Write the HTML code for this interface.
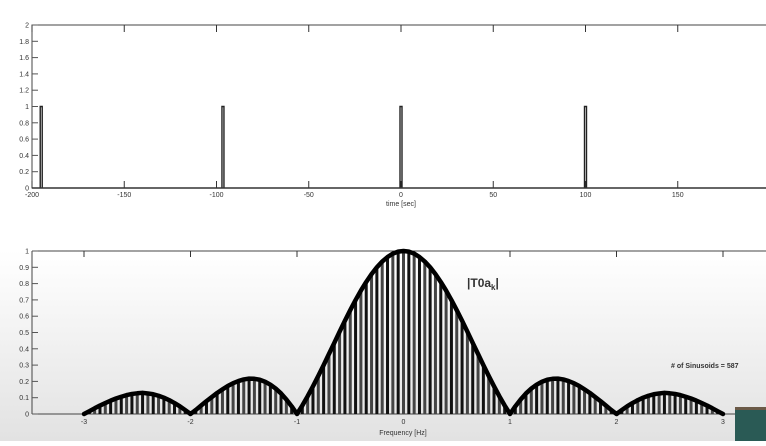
<!DOCTYPE html>
<html><head><meta charset="utf-8"><style>
html,body{margin:0;padding:0}
body{width:766px;height:441px;overflow:hidden;background:linear-gradient(#fff 0px,#fff 250px,#f3f3f3 330px,#e2e2e2 441px);font-family:"Liberation Sans",sans-serif}
svg text{font-family:"Liberation Sans",sans-serif;fill:#333}
</style></head><body>
<svg id="c" width="766" height="441"></svg>
<script>
const pulseTimes=[-195,-96.5,0,100];
const pulseHeights=[1,1,1,1];
const topXTicks=[-200,-150,-100,-50,0,50,100,150];
const topYTicks=[0,0.2,0.4,0.6,0.8,1,1.2,1.4,1.6,1.8,2];
const freqs=[];for(let i=-60;i<=60;i++)freqs.push(i/20);
const halfMag=[1,0.996,0.984,0.963,0.935,0.900,0.858,0.810,0.757,0.699,0.637,0.572,0.505,0.436,0.368,0.300,0.234,0.170,0.109,0.052,0,0.047,0.089,0.126,0.156,0.180,0.198,0.210,0.216,0.217,0.212,0.202,0.189,0.172,0.151,0.129,0.104,0.079,0.052,0.025,0,0.024,0.047,0.067,0.085,0.100,0.112,0.121,0.126,0.130,0.127,0.123,0.116,0.106,0.095,0.082,0.067,0.052,0.035,0.017,0];
const mags=halfMag.slice(1).reverse().concat(halfMag);
const botXTicks=[-3,-2,-1,0,1,2,3];
const botYTicks=[0,0.1,0.2,0.3,0.4,0.5,0.6,0.7,0.8,0.9,1];
const NS="http://www.w3.org/2000/svg",svg=document.getElementById('c');
function mk(t,a,p){const e=document.createElementNS(NS,t);for(const k in a)e.setAttribute(k,a[k]);(p||svg).appendChild(e);return e;}
const tx=v=>32+(v+200)*1.845, ty=v=>188-v*81.5;
const g1=mk('g',{});
let r=mk('rect',{x:32,y:25,width:740,height:163,fill:'#fff',stroke:'#444','stroke-width':1},g1);

topXTicks.forEach(v=>{const x=tx(v);mk('line',{x1:x,x2:x,y1:188,y2:181,stroke:'#333'},g1);mk('line',{x1:x,x2:x,y1:25,y2:32,stroke:'#333'},g1);
 const t=mk('text',{x:x,y:197,'font-size':7,'text-anchor':'middle'},g1);t.textContent=v;});
topYTicks.forEach(v=>{const y=ty(v);mk('line',{x1:32,x2:38,y1:y,y2:y,stroke:'#555'},g1);
 const t=mk('text',{x:29,y:y+2.5,'font-size':7,'text-anchor':'end'},g1);t.textContent=v;});
pulseTimes.forEach((p,i)=>{const x=tx(p);const e=mk('path',{d:`M${x-1},${ty(0)}V${ty(pulseHeights[i])}H${x+1}V${ty(0)}`,fill:'none',stroke:'#222','stroke-width':1.4},g1);
 });
mk('line',{x1:32,x2:766,y1:188,y2:188,stroke:'#333','stroke-width':1.5},g1);
let t=mk('text',{x:401,y:206,'font-size':7,'text-anchor':'middle'},g1);t.textContent='time [sec]';
const fx=v=>403.5+v*106.5, fy=v=>414-v*163;
const g2=mk('g',{});
mk('line',{x1:32,x2:766,y1:251,y2:251,stroke:'#444'},g2);
mk('line',{x1:32,x2:32,y1:251,y2:414,stroke:'#444'},g2);
mk('line',{x1:32,x2:766,y1:414,y2:414,stroke:'#444'},g2);
botXTicks.forEach(v=>{const x=fx(v);mk('line',{x1:x,x2:x,y1:251,y2:257,stroke:'#333'},g2);
 const t=mk('text',{x:x,y:424,'font-size':7,'text-anchor':'middle'},g2);t.textContent=v;});
botYTicks.forEach(v=>{const y=fy(v);mk('line',{x1:32,x2:38,y1:y,y2:y,stroke:'#555'},g2);
 const t=mk('text',{x:29,y:y+2.5,'font-size':7,'text-anchor':'end'},g2);t.textContent=v;});
freqs.forEach((f,i)=>{const x=fx(f);const e=mk('line',{x1:x,x2:x,y1:fy(0),y2:fy(mags[i]),stroke:(i%2?'#111':'#444'),'stroke-width':3},g2);
 });
const env=mk('polyline',{points:freqs.map((f,i)=>fx(f)+','+fy(mags[i])).join(' '),fill:'none',stroke:'#000','stroke-width':4.5,'stroke-linejoin':'round','stroke-linecap':'round'},g2);

t=mk('text',{x:403,y:435,'font-size':7,'text-anchor':'middle'},g2);t.textContent='Frequency [Hz]';
t=mk('text',{x:467,y:287,'font-size':12,'font-weight':'bold'},g2);t.innerHTML='|T0a<tspan font-size="8" dy="3">k</tspan><tspan dy="-3">|</tspan>';
t=mk('text',{x:671,y:368,'font-size':7,'font-weight':'bold'},g2);t.textContent='# of Sinusoids = 587';
const b=mk('rect',{x:735,y:408,width:31,height:33,fill:'#2a5a55'});
mk('rect',{x:735,y:407,width:31,height:3,fill:'#6b5a48'});
</script>
</body></html>
